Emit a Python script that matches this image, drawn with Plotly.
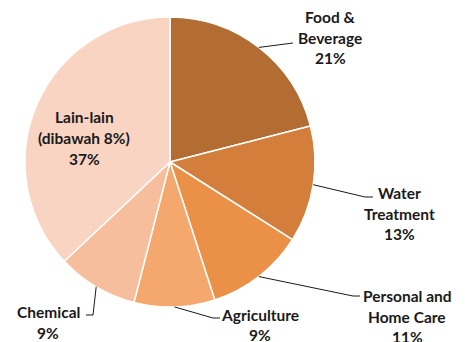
import math
import plotly.graph_objects as go

# Market share by sector (%)
sectors = ["Food & Beverage", "Water Treatment", "Personal and Home Care",
           "Agriculture", "Chemical", "Lain-lain"]
shares = [21, 13, 11, 9, 9, 37]
label_lines = [
    ["Food &", "Beverage", "21%"],
    ["Water", "Treatment", "13%"],
    ["Personal and", "Home Care", "11%"],
    ["Agriculture", "9%"],
    ["Chemical", "9%"],
    ["Lain-lain", "(dibawah 8%)", "37%"],
]
colors = ["#B36D33", "#D37E3B", "#EB9047", "#F4A86D", "#F7BE9D", "#F9D4C2"]

W, H = 466, 342
CX, CY, R = 170, 162, 145  # pie centre and radius in pixels

# label block centres (px) and leader elbows (px); None = label inside slice
label_pos = [(330, 37.7), (399, 213.5), (407, 316.5), (260, 325), (48, 322.3), (84, 138)]
leader_elbows = [
    [(293, 43)],
    [(365, 197), (373, 197)],
    [(353, 296), (360, 296)],
    [(213, 318), (220, 318)],
    [(93, 315), (86, 315)],
    None,
]
LINE_H = 20.8

fig = go.Figure(go.Pie(
    labels=sectors,
    values=shares,
    sort=False,
    direction="clockwise",
    rotation=0,
    marker=dict(colors=colors, line=dict(color="white", width=1.5)),
    textinfo="none",
    hoverinfo="label+percent",
    domain=dict(x=[(CX - R) / W, (CX + R) / W], y=[1 - (CY + R) / H, 1 - (CY - R) / H]),
    showlegend=False,
))

px = lambda x: x / W
py = lambda y: 1 - y / H

total = sum(shares)
cum = 0
annotations, shapes = [], []
for i, v in enumerate(shares):
    mid = (cum + v / 2) / total * 2 * math.pi
    cum += v
    # point on the rim at the slice's mid angle (clockwise from 12 o'clock)
    sx, sy = CX + R * math.sin(mid), CY - R * math.cos(mid)
    if leader_elbows[i]:
        pts = [(sx, sy)] + leader_elbows[i]
        path = "M " + " L ".join(f"{px(x)},{py(y)}" for x, y in pts)
        shapes.append(dict(type="path", xref="paper", yref="paper", path=path,
                           line=dict(color="#1a1a1a", width=1)))
    lx, ly = label_pos[i]
    n = len(label_lines[i])
    for k, txt in enumerate(label_lines[i]):
        yy = ly + (k - (n - 1) / 2) * LINE_H
        annotations.append(dict(
            x=px(lx), y=py(yy), xref="paper", yref="paper",
            text=f"<b>{txt}</b>", showarrow=False,
            xanchor="center", yanchor="middle",
            font=dict(family="Lato", size=15.5, color="#1a1a1a"),
        ))

fig.update_layout(
    width=W, height=H,
    margin=dict(l=0, r=0, t=0, b=0),
    paper_bgcolor="white",
    plot_bgcolor="white",
    annotations=annotations,
    shapes=shapes,
)

fig.write_html("out.html")
